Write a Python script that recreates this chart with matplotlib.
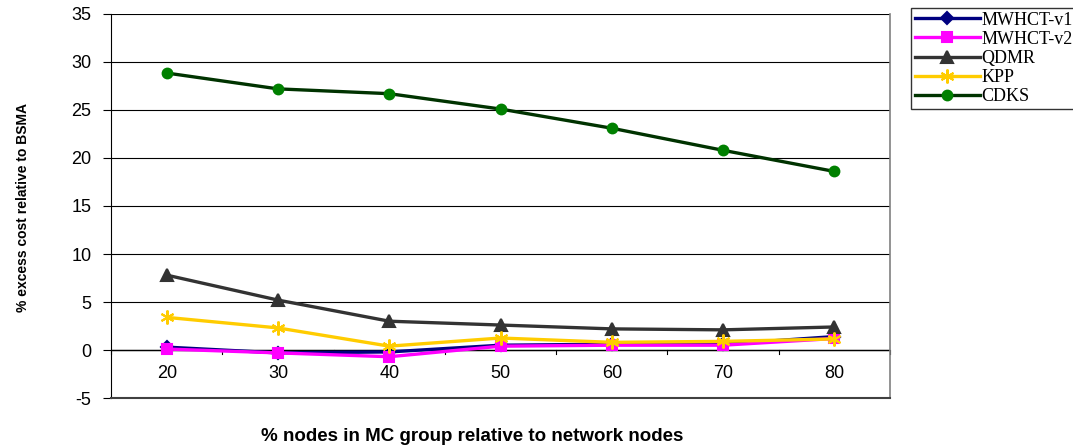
import matplotlib.pyplot as plt
import numpy as np

categories = ["20", "30", "40", "50", "60", "70", "80"]
mwhct_v1 = [0.3, -0.3, -0.2, 0.5, 0.6, 0.6, 1.4]
mwhct_v2 = [0.1, -0.3, -0.7, 0.4, 0.5, 0.5, 1.2]
qdmr = [7.8, 5.2, 3.0, 2.6, 2.2, 2.1, 2.4]
kpp = [3.4, 2.3, 0.4, 1.25, 0.8, 0.9, 1.15]
cdks = [28.85, 27.2, 26.7, 25.1, 23.1, 20.8, 18.6]

series = [
    ("MWHCT-v1", mwhct_v1, "#000080", "#000080", "D", 6),
    ("MWHCT-v2", mwhct_v2, "#FF00FF", "#FF00FF", "s", 7),
    ("QDMR", qdmr, "#333333", "#333333", "^", 8),
    ("KPP", kpp, "#FFCC00", "#FFCC00", (6, 2, 0), 10),
    ("CDKS", cdks, "#003300", "#008000", "o", 7),
]

fig = plt.figure(figsize=(10.73, 4.47), dpi=100)
ax = fig.add_axes([0.1035, 0.1096, 0.726, 0.8591])

x = np.arange(len(categories))
for name, vals, lc, mc, mk, ms in series:
    ax.plot(x, vals, color=lc, linewidth=2.4, marker=mk, markersize=ms,
            markerfacecolor=mc, markeredgecolor=mc, markeredgewidth=1.5,
            label=name, zorder=3)

ax.set_xlim(-0.5, len(categories) - 0.5)
ax.set_ylim(-5, 35)
ax.set_yticks(range(-5, 36, 5))
ax.set_yticklabels([str(v) for v in range(-5, 36, 5)], fontsize=13,
                   family="Liberation Sans")
ax.yaxis.grid(True, color="black", linewidth=0.8)
ax.set_axisbelow(True)
ax.tick_params(axis="y", direction="out", length=6, width=0.8, pad=8)

# category axis drawn at y = 0, tick marks between categories
ax.set_xticks([])
ax.axhline(0, color="black", linewidth=1.0, zorder=2)
for b in np.arange(-0.5, len(categories), 1.0):
    ax.plot([b, b], [0, -0.45], color="black", linewidth=0.8, clip_on=False, zorder=2)
for xi, c in zip(x, categories):
    ax.text(xi, -2.4, c, ha="center", va="center", fontsize=13,
            family="Liberation Sans")

ax.spines["top"].set_visible(False)
ax.spines["left"].set_color("black")
ax.spines["right"].set_color("#808080")
ax.spines["bottom"].set_color("#404040")
ax.spines["bottom"].set_linewidth(1.5)
ax.spines["right"].set_linewidth(1.2)

fig.text(0.021, 0.535, "% excess cost relative to BSMA", rotation=90,
         ha="center", va="center", fontsize=10, fontweight="bold",
         family="Liberation Sans")
fig.text(0.44, 0.024, "% nodes in MC group relative to network nodes",
         ha="center", va="center", fontsize=13.5, fontweight="bold",
         family="Liberation Sans")

leg = fig.legend(loc="upper left", bbox_to_anchor=(911 / 1073, 1 - 8 / 447),
                 prop={"family": "Liberation Serif", "size": 13},
                 frameon=True, fancybox=False, edgecolor="black",
                 handlelength=3.6, borderpad=0.2, labelspacing=0.12,
                 handletextpad=0.1, borderaxespad=0)
leg.get_frame().set_linewidth(1.0)

fig.savefig("out.png", dpi=100)
